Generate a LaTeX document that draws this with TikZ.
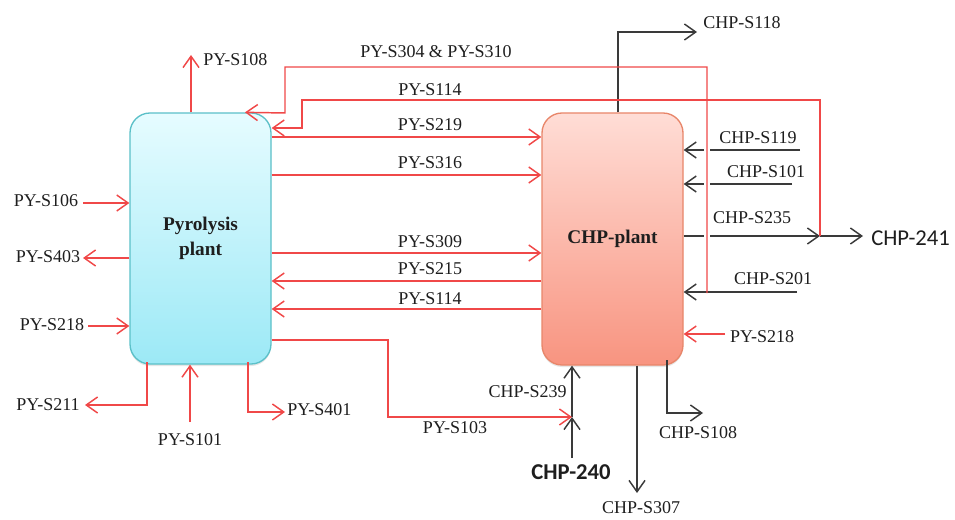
\documentclass[tikz,border=0pt]{standalone}
\usepackage{fontspec}
\setmainfont{Liberation Serif}
\newfontfamily\calfont{Carlito}
\usetikzlibrary{arrows.meta,shadows}
\definecolor{redc}{HTML}{F04848}
\definecolor{blk}{HTML}{3A3A3A}
\definecolor{txt}{HTML}{1E1E1E}
\definecolor{pytop}{HTML}{E6FCFF}
\definecolor{pybot}{HTML}{9CE9F6}
\definecolor{pybd}{HTML}{5BC0C8}
\definecolor{chtop}{HTML}{FFDDD6}
\definecolor{chbot}{HTML}{F89480}
\definecolor{chbd}{HTML}{E8866A}
\tikzset{
  base/.style={line width=1.1pt},
  rl/.style={base, draw=redc, -{Straight Barb[length=8.5pt,width=12pt,line width=1.1pt]}},
  bl/.style={base, draw=blk, -{Straight Barb[length=8.5pt,width=12pt,line width=1.1pt]}},
  lbl/.style={inner sep=0pt, text=txt, font=\fontsize{13.5}{16}\selectfont},
  big/.style={inner sep=0pt, text=txt, font=\calfont\fontsize{17}{20}\selectfont},
  plantbox/.style={rectangle, rounded corners=15pt, line width=1pt, align=center,
     text=txt, font=\bfseries\fontsize{14.5}{19}\selectfont,
     drop shadow={opacity=0.2, shadow xshift=0pt, shadow yshift=-1.5pt}}
}
\begin{document}
\begin{tikzpicture}[x=0.75pt,y=-0.75pt]
\useasboundingbox (0,0) rectangle (955,520);
% plants
\node[plantbox, draw=pybd, top color=pytop, bottom color=pybot,
      minimum width=105.75pt, minimum height=188.25pt] (py) at (200.5,238.5) {Pyrolysis\\plant};
\node[plantbox, draw=chbd, top color=chtop, bottom color=chbot,
      minimum width=105.75pt, minimum height=189pt] (chp) at (612.5,239) {CHP-plant};

% coordinates
\coordinate (a304) at (707,293);
\coordinate (a114) at (820,236);
\coordinate (jn) at (572,417);
\coordinate (c240s) at (572,458);
\coordinate (c241) at (863,236);

% black CHP streams (drawn first)
\draw[bl] (800,150) -- (chp.east |- 0,150);
\draw[bl] (792,184) -- (chp.east |- 0,184);
\draw[bl] (797,292) -- (chp.east |- 0,292);
\draw[bl] (chp.east |- 0,236) -- (a114);
\draw[bl] (a114) -- (c241);
\draw[bl] (chp.north -| 618,0) -- (618,32) -- (697,32);
\draw[bl] (chp.south -| 637,0) -- (637,493);
\draw[bl] (667,360) -- (667,413) -- (703,413);
\draw[bl] (c240s) -- (jn);
\draw[bl] (jn) -- (chp.south -| jn);

% gaps where the red return line crosses black lines
\draw[white, line width=5pt] (707,143) -- (707,243);

% red returns from CHP to pyrolysis (top loops)
\draw[rl] (a304) -- (707,67) -- (285,67) -- (285,113) -- (py.north -| 245,0);
\draw[rl] (a114) -- (820,100) -- (302,100) -- (302,128) -- (py.east |- 0,128);

% red streams between plants
\draw[rl] (py.east |- 0,137) -- (chp.west |- 0,137);
\draw[rl] (py.east |- 0,175) -- (chp.west |- 0,175);
\draw[rl] (py.east |- 0,253) -- (chp.west |- 0,253);
\draw[rl] (chp.west |- 0,281) -- (py.east |- 0,281);
\draw[rl] (chp.west |- 0,309) -- (py.east |- 0,309);
\draw[rl] (py.east |- 0,340) -- (388,340) -- (388,417) -- (jn);
\draw[rl] (725,334) -- (chp.east |- 0,334);

% pyrolysis boundary streams
\draw[rl] (py.north -| 191,0) -- (191,55);
\draw[rl] (83,203) -- (py.west |- 0,203);
\draw[rl] (py.west |- 0,258) -- (83,258);
\draw[rl] (88,326) -- (py.west |- 0,326);
\draw[rl] (147,362) -- (147,405) -- (85,405);
\draw[rl] (190,422) -- (py.south -| 190,0);
\draw[rl] (248,362) -- (248,412) -- (285,412);

% labels
\node[lbl, anchor=west] (l108) at (203,60) {PY-S108};
\node[lbl] (l304) at (436,52) {PY-S304 \& PY-S310};
\node[lbl] (l114a) at (430,90) {PY-S114};
\node[lbl] (l219) at (430,125) {PY-S219};
\node[lbl] (l316) at (430,163) {PY-S316};
\node[lbl] (l309) at (430,242) {PY-S309};
\node[lbl] (l215) at (430,269) {PY-S215};
\node[lbl] (l114b) at (430,299) {PY-S114};
\node[lbl] (l103) at (455,428) {PY-S103};
\node[lbl] (l106) at (46,201) {PY-S106};
\node[lbl] (l403) at (48,257) {PY-S403};
\node[lbl] (l218a) at (52,325) {PY-S218};
\node[lbl] (l211) at (48,405) {PY-S211};
\node[lbl] (l101) at (190,440) {PY-S101};
\node[lbl, anchor=west] (l401) at (287,410) {PY-S401};
\node[lbl] (l118) at (742,23) {CHP-S118};
\node[lbl] (l119) at (758,138) {CHP-S119};
\node[lbl] (l101c) at (766,172) {CHP-S101};
\node[lbl] (l235) at (752,218) {CHP-S235};
\node[lbl] (l201) at (773,279) {CHP-S201};
\node[lbl] (l218b) at (762,337) {PY-S218};
\node[lbl, anchor=east] (l239) at (567,392) {CHP-S239};
\node[lbl] (l108c) at (698,433) {CHP-S108};
\node[lbl] (l307) at (641,508) {CHP-S307};
\node[big, anchor=west] (l241) at (871,238) {CHP-241};
\node[big, font=\calfont\bfseries\fontsize{17}{20}\selectfont] (l240) at (571,472) {CHP-240};
\end{tikzpicture}
\end{document}
